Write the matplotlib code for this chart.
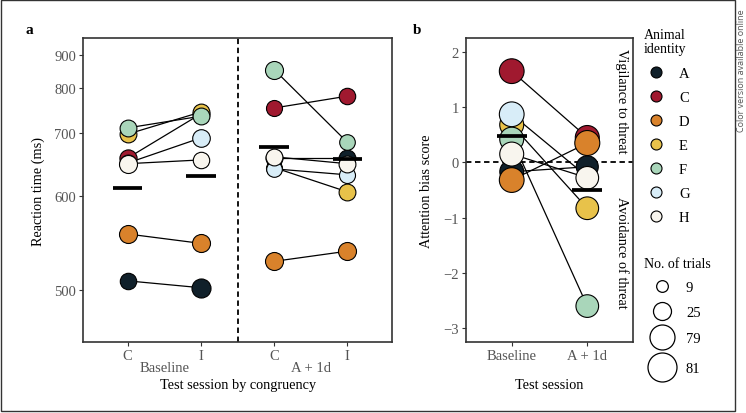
import numpy as np
import matplotlib.pyplot as plt
from matplotlib.patches import Rectangle

# animals and colours
animals = ["A", "C", "D", "E", "F", "G", "H"]
animal_colors = ["#10202a", "#a0192f", "#d9822b", "#e8c24a", "#a9d6ba", "#d8edf8", "#f8f5ee"]

# panel a: reaction time (ms), per animal, session x congruency
rt_base_c = [508, 655, 554, 697, 709, 647, 646]
rt_base_i = [502, 738, 544, 742, 733, 690, 652]
rt_a1d_c = [655, 751, 526, 640, 852, 638, 657]
rt_a1d_i = [655, 779, 536, 605, 682, 629, 646]
rt_means = [610, 628, 674, 653]
trials_base_c = [21, 23, 25, 22, 22, 22, 25]
trials_base_i = [33, 22, 25, 22, 22, 24, 21]
trials_a1d_c = [22, 20, 25, 20, 25, 19, 22]
trials_a1d_i = [22, 21, 25, 22, 19, 20, 22]
a_ticklabels = ["C", "I", "C", "I"]
a_sessions = ["Baseline", "A + 1d"]

# panel b: attention bias score
abs_base = [-0.17, 1.65, -0.32, 0.68, 0.42, 0.87, 0.15]
abs_a1d = [-0.08, 0.45, 0.35, -0.83, -2.60, -0.26, -0.28]
abs_means = [0.48, -0.50]
trials_b_base = [70, 77, 77, 71, 71, 77, 71]
trials_b_a1d = [56, 71, 79, 61, 61, 35, 61]
b_ticklabels = ["Baseline", "A + 1d"]

# size legend
size_breaks = [9, 25, 79, 81]
size_diams = [11.7, 18, 25, 29]  # px

plt.rcParams['font.family'] = ['Liberation Serif', 'DejaVu Serif']

W, H = 746, 414
fig = plt.figure(figsize=(W / 100, H / 100), dpi=100)

TICKC = "#555555"
SPINEC = "#333333"
LABSIZE = 10.3


def px_axes(x0, y0, x1, y1):
    return fig.add_axes([x0 / W, 1 - y1 / H, (x1 - x0) / W, (y1 - y0) / H])


def area(n):
    d = np.interp(n, size_breaks, size_diams) * 0.72
    return d ** 2


def style(ax):
    for s in ax.spines.values():
        s.set_color(SPINEC)
        s.set_linewidth(1.2)
    ax.tick_params(length=3, width=0.8, color=SPINEC, labelcolor=TICKC,
                   labelsize=10.5, pad=2)
    ax.minorticks_off()


def fwd(x):
    return -np.power(np.maximum(x, 1e-6), -1.4)


def inv(y):
    return np.power(np.maximum(-y, 1e-30), -1 / 1.4)


# ---------------- panel a ----------------
axa = px_axes(83, 39, 392, 343)
axa.set_yscale('function', functions=(fwd, inv))
conds = [rt_base_c, rt_base_i, rt_a1d_c, rt_a1d_i]
trials_a = [trials_base_c, trials_base_i, trials_a1d_c, trials_a1d_i]
pos = np.arange(1, 5)
for k in range(len(animals)):
    axa.plot([1, 2], [rt_base_c[k], rt_base_i[k]], color="black", lw=0.9, zorder=1)
    axa.plot([3, 4], [rt_a1d_c[k], rt_a1d_i[k]], color="black", lw=0.9, zorder=1)
for k in range(len(animals)):
    for j in range(4):
        axa.scatter(pos[j], conds[j][k], s=area(trials_a[j][k]), color=animal_colors[k],
                    edgecolor="black", linewidth=0.8, zorder=2)
axa.hlines(rt_means, pos - 0.2, pos + 0.2, color="black", lw=2.7, zorder=3)
axa.axvline(2.5, color="black", lw=1.3, ls=(0, (3, 2)), zorder=1)
axa.set_xlim(0.39, 4.61)
axa.set_ylim(460, 964)
axa.set_yticks([500, 600, 700, 800, 900])
axa.set_yticklabels(["500", "600", "700", "800", "900"])
axa.set_xticks(pos)
axa.set_xticklabels(a_ticklabels)
style(axa)
for i, lab in enumerate(a_sessions):
    axa.text(1.5 + 2 * i, -0.0855, lab, transform=axa.get_xaxis_transform(),
             ha="center", va="center", fontsize=10.5, color=TICKC)
axa.set_ylabel("Reaction time (ms)", fontsize=LABSIZE)
axa.yaxis.set_label_coords(-0.123, 0.5)
axa.set_xlabel("Test session by congruency", fontsize=LABSIZE)
axa.xaxis.set_label_coords(0.5, -0.141)
axa.xaxis.label.set_va("center")

# ---------------- panel b ----------------
axb = px_axes(466, 39, 633, 343)
for k in range(len(animals)):
    axb.plot([1, 2], [abs_base[k], abs_a1d[k]], color="black", lw=0.9, zorder=1)
for k in range(len(animals)):
    axb.scatter([1, 2], [abs_base[k], abs_a1d[k]],
                s=[area(trials_b_base[k]), area(trials_b_a1d[k])],
                color=animal_colors[k], edgecolor="black", linewidth=0.8, zorder=2)
axb.hlines(abs_means, np.array([1, 2]) - 0.2, np.array([1, 2]) + 0.2,
           color="black", lw=2.7, zorder=3)
axb.axhline(0, color="black", lw=1.3, ls=(0, (3, 2)), zorder=1)
axb.set_xlim(0.395, 2.605)
axb.set_ylim(-3.25, 2.25)
axb.set_yticks([-3, -2, -1, 0, 1, 2])
axb.set_xticks([1, 2])
axb.set_xticklabels(b_ticklabels)
style(axb)
axb.set_ylabel("Attention bias score", fontsize=LABSIZE)
axb.yaxis.set_label_coords(-0.199, 0.5)
axb.set_xlabel("Test session", fontsize=LABSIZE)
axb.xaxis.set_label_coords(0.5, -0.141)
axb.xaxis.label.set_va("center")
axb.text(0.93, (343 - 101) / 304, "Vigilance to threat", transform=axb.transAxes,
         rotation=270, ha="center", va="center", fontsize=10.3)
axb.text(0.93, (343 - 253) / 304, "Avoidance of threat", transform=axb.transAxes,
         rotation=270, ha="center", va="center", fontsize=10.3)

# ---------------- overlay: labels, legends, frame ----------------
lg = fig.add_axes([0, 0, 1, 1])
lg.set_xlim(0, W)
lg.set_ylim(H, 0)
lg.axis("off")
lg.add_patch(Rectangle((0.5, 0.5), 734.5, 411.5, fill=False, ec=SPINEC, lw=1, clip_on=False))
lg.text(29, 30, "a", fontsize=11, fontweight="bold", ha="center", va="center")
lg.text(417, 30, "b", fontsize=11, fontweight="bold", ha="center", va="center")

lg.text(644, 39, "Animal", fontsize=10, va="baseline")
lg.text(644, 53.5, "identity", fontsize=10, va="baseline")
for i, (name, col) in enumerate(zip(animals, animal_colors)):
    y = 72.7 + 24 * i
    lg.scatter(655.7, y, s=(11 * 0.72) ** 2, color=col, edgecolor="black", linewidth=0.8)
    lg.text(679, y + 5.2, name, fontsize=10.5, va="baseline")

lg.text(644, 268.3, "No. of trials", fontsize=10, va="baseline")
for y, n in zip([287.3, 312.3, 337.7, 368.3], size_breaks):
    lg.scatter(661.7, y, s=area(n), color="white", edgecolor="black", linewidth=0.9)
    lg.text(686, y + 5.2, str(n), fontsize=10.5, va="baseline")

lg.text(741.5, 132, "Color version available online", rotation=90, ha="center",
        va="bottom", fontsize=6.5, color="#555555", family="Open Sans")

plt.savefig("out.png", dpi=100)
plt.close()
